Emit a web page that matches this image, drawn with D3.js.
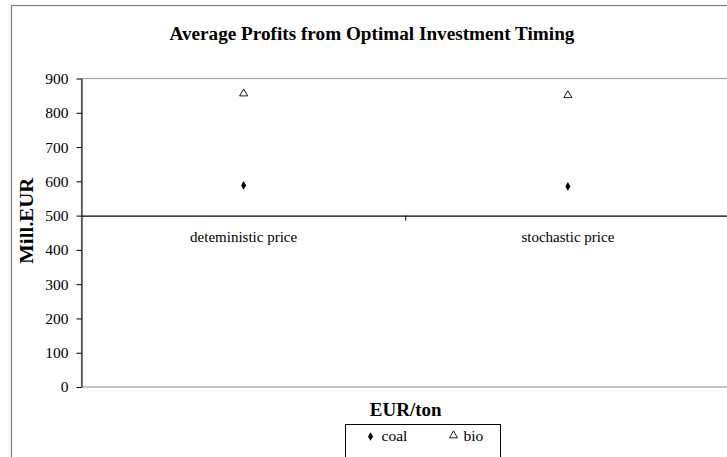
<!DOCTYPE html>
<html>
<head>
<meta charset="utf-8">
<script src="https://cdn.jsdelivr.net/npm/d3@7"></script>
<style>
  body { margin: 0; background: #fff; }
</style>
</head>
<body>
<div id="chart"></div>
<script>
// chart data
const categories = ["deteministic price", "stochastic price"];
const coalValues = [588, 585];
const bioValues = [856, 851];
const yTicks = [0, 100, 200, 300, 400, 500, 600, 700, 800, 900];
const crossAt = 500;

const FONT = "Liberation Serif";
const W = 727, H = 457;
// plot area box
const margin = { top: 78.5, left: 81.5, right: -3 };
const plotW = W - margin.left - margin.right;
const plotH = 387 - margin.top;

const svg = d3.select("#chart").append("svg")
  .attr("width", W).attr("height", H);

// outer chart border
svg.append("rect")
  .attr("x", 11.5).attr("y", 5.5)
  .attr("width", 740).attr("height", 480)
  .attr("fill", "none").attr("stroke", "#7f7f7f").attr("stroke-width", 1.2);

// title
svg.append("text")
  .attr("x", 372).attr("y", 40)
  .attr("text-anchor", "middle")
  .style("font-family", FONT).style("font-size", "19.2px").style("font-weight", "bold")
  .text("Average Profits from Optimal Investment Timing");

const g = svg.append("g")
  .attr("transform", `translate(${margin.left},${margin.top})`);

const x = d3.scaleBand().domain(categories).range([0, plotW]);
const y = d3.scaleLinear().domain([0, 900]).range([plotH, 0]);

// plot area border (gray)
g.append("rect")
  .attr("x", 0).attr("y", 0)
  .attr("width", plotW).attr("height", plotH)
  .attr("fill", "none").attr("stroke", "#a6a6a6").attr("stroke-width", 1.3);

// y axis
const yAxis = g.append("g")
  .call(d3.axisLeft(y).tickValues(yTicks).tickSize(5).tickSizeOuter(0).tickPadding(8));
yAxis.select(".domain").attr("stroke", "#000");
yAxis.selectAll("text").style("font-family", FONT).style("font-size", "15.5px");

// x axis crossing at 500
const xAxis = g.append("g")
  .attr("transform", `translate(0,${y(crossAt)})`)
  .call(d3.axisBottom(x).tickSize(0).tickSizeOuter(0).tickPadding(16));
xAxis.select(".domain").attr("stroke", "#000").attr("stroke-width", 1.3);
xAxis.selectAll("text").style("font-family", FONT).style("font-size", "15px");
// tick mark between categories
g.append("line")
  .attr("x1", x(categories[1])).attr("x2", x(categories[1]))
  .attr("y1", y(crossAt)).attr("y2", y(crossAt) + 5)
  .attr("stroke", "#000");

// y axis title
svg.append("text")
  .attr("transform", `translate(33,${margin.top + y(485)}) rotate(-90)`)
  .attr("text-anchor", "middle")
  .attr("textLength", 86).attr("lengthAdjust", "spacingAndGlyphs")
  .style("font-family", FONT).style("font-size", "19px").style("font-weight", "bold")
  .text("Mill.EUR");

// x axis title
svg.append("text")
  .attr("x", margin.left + plotW / 2).attr("y", 416)
  .attr("text-anchor", "middle")
  .style("font-family", FONT).style("font-size", "19px").style("font-weight", "bold")
  .text("EUR/ton");

// markers
const diamond = d3.symbol().type(d3.symbolDiamond).size(22);
const triangle = d3.symbol().type(d3.symbolTriangle).size(28);

g.selectAll(".coal")
  .data(coalValues)
  .join("path")
  .attr("class", "coal")
  .attr("d", diamond)
  .attr("transform", (d, i) => `translate(${x(categories[i]) + x.bandwidth() / 2},${y(d)})`)
  .attr("fill", "#000");

g.selectAll(".bio")
  .data(bioValues)
  .join("path")
  .attr("class", "bio")
  .attr("d", triangle)
  .attr("transform", (d, i) => `translate(${x(categories[i]) + x.bandwidth() / 2},${y(d)})`)
  .attr("fill", "#fff").attr("stroke", "#000").attr("stroke-width", 0.9);

// legend
const leg = svg.append("g").attr("transform", "translate(345.5,424.5)");
leg.append("rect")
  .attr("width", 155).attr("height", 40)
  .attr("fill", "#fff").attr("stroke", "#000").attr("stroke-width", 1);
leg.append("path").attr("d", diamond).attr("transform", "translate(25,12)").attr("fill", "#000");
leg.append("text").attr("x", 36).attr("y", 16.5)
  .style("font-family", FONT).style("font-size", "15.5px").text("coal");
leg.append("path").attr("d", triangle).attr("transform", "translate(108,11)")
  .attr("fill", "#fff").attr("stroke", "#000").attr("stroke-width", 0.9);
leg.append("text").attr("x", 118).attr("y", 16.5)
  .style("font-family", FONT).style("font-size", "15.5px").text("bio");
</script>
</body>
</html>
